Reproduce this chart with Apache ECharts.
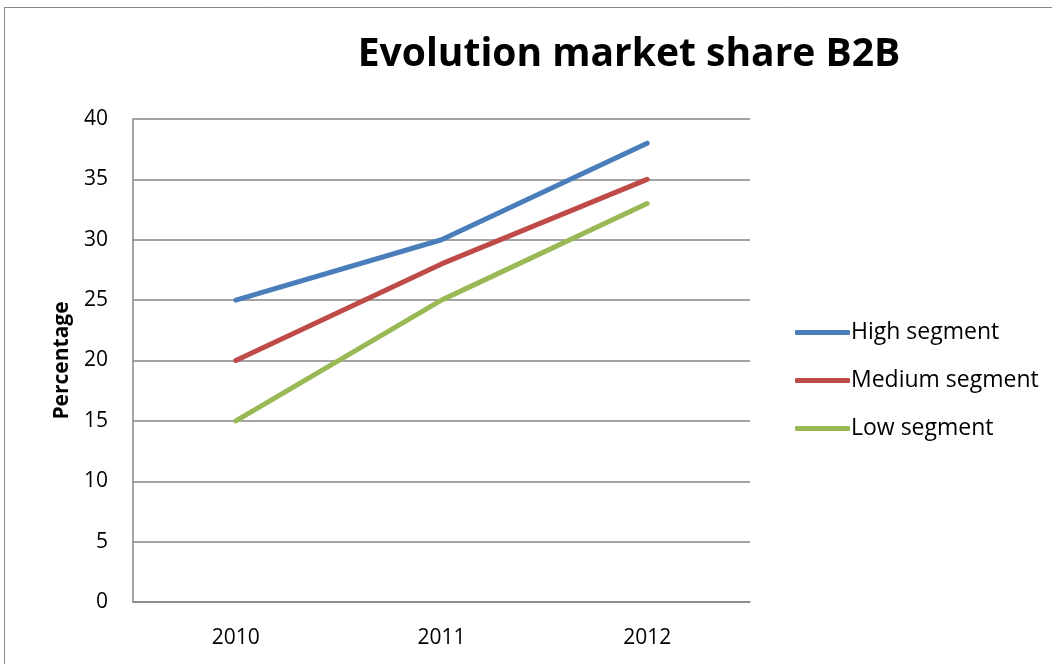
<!DOCTYPE html>
<html>
<head>
<meta charset="utf-8">
<script src="https://cdn.jsdelivr.net/npm/echarts@6/dist/echarts.min.js"></script>
<style>
    html, body { margin: 0; padding: 0; background: #fff; }
    #app { width: 1052px; height: 664px; }
</style>
</head>
<body>
<div id="app"></div>
<script>
// 数据
var years = ['2010', '2011', '2012'];
var highSegment = [25, 30, 38];
var mediumSegment = [20, 28, 35];
var lowSegment = [15, 25, 33];
var seriesNames = ['High segment', 'Medium segment', 'Low segment'];
var seriesColors = ['#4A7EBB', '#BE4B48', '#98B954'];

var font = '"Open Sans", "Noto Sans", sans-serif';

var chart = echarts.init(document.getElementById('app'));

function lineSeries(name, data, color) {
    return {
        name: name,
        type: 'line',
        data: data,
        symbol: 'none',
        color: color,
        lineStyle: { width: 5, cap: 'round', join: 'round' }
    };
}

var option = {
    animation: false,
    backgroundColor: '#fff',
    graphic: [
        {
            type: 'rect',
            shape: { x: 4.5, y: 7.5, width: 1100, height: 700 },
            style: { fill: 'none', stroke: '#868686', lineWidth: 1 },
            silent: true
        },
        {
            type: 'text',
            x: 629, y: 55,
            style: {
                text: 'Evolution market share B2B',
                font: 'bold 39px ' + font,
                fill: '#000',
                align: 'center',
                verticalAlign: 'middle'
            }
        }
    ],
    legend: {
        orient: 'vertical',
        left: 790,
        top: 316,
        itemWidth: 55,
        itemHeight: 5,
        itemGap: 25,
        icon: 'roundRect',
        data: seriesNames,
        textStyle: { fontFamily: font, fontSize: 23, color: '#000', padding: [0, 0, 0, -4] }
    },
    grid: {
        left: 133,
        right: 302,
        top: 119,
        bottom: 62
    },
    xAxis: {
        type: 'category',
        data: years,
        boundaryGap: true,
        axisLine: { lineStyle: { color: '#868686', width: 1.5 } },
        axisTick: { show: false },
        axisLabel: { fontFamily: font, fontSize: 21, color: '#000', margin: 26 }
    },
    yAxis: {
        type: 'value',
        min: 0,
        max: 40,
        interval: 5,
        name: 'Percentage',
        nameLocation: 'middle',
        nameGap: 60,
        nameTextStyle: { fontFamily: font, fontSize: 21, fontWeight: 'bold', color: '#000' },
        axisLine: { show: true, lineStyle: { color: '#868686', width: 1.5 } },
        axisTick: { show: false },
        splitLine: { lineStyle: { color: '#868686', width: 1.5 } },
        axisLabel: { fontFamily: font, fontSize: 21, color: '#000', margin: 25 }
    },
    series: [
        lineSeries(seriesNames[0], highSegment, seriesColors[0]),
        lineSeries(seriesNames[1], mediumSegment, seriesColors[1]),
        lineSeries(seriesNames[2], lowSegment, seriesColors[2])
    ]
};

chart.setOption(option);
</script>
</body>
</html>
